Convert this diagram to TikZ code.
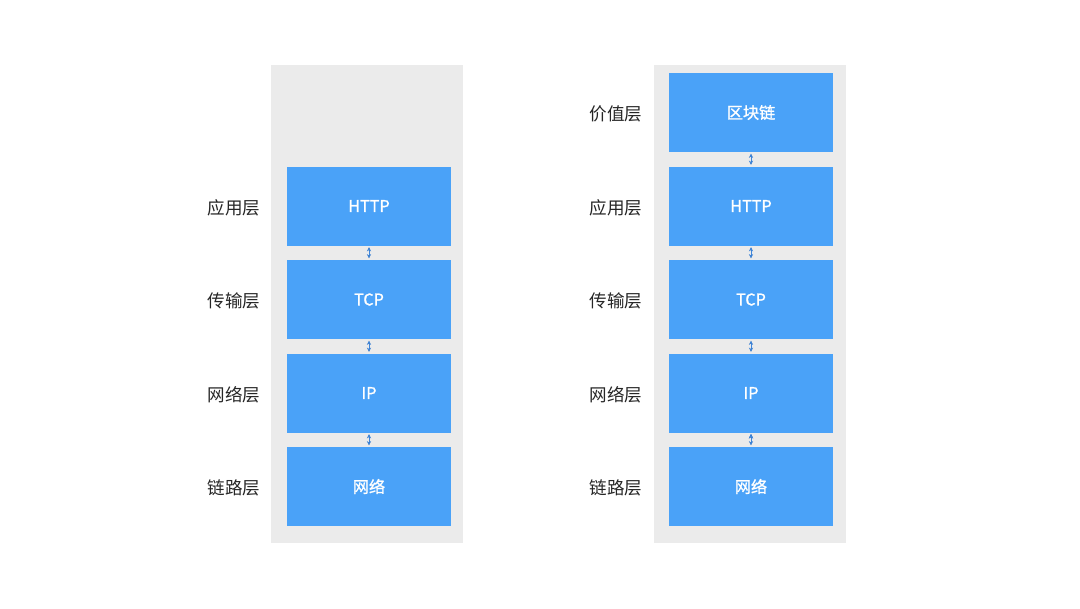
\documentclass[tikz,border=0pt]{standalone}
\usepackage{fontspec}
\setmainfont{Noto Sans CJK SC}
\newfontfamily\boxfont[FakeBold=1.2,AutoFakeBold=false]{Noto Sans CJK SC}
\usetikzlibrary{positioning,arrows.meta}
\definecolor{panelgray}{HTML}{EBEBEB}
\definecolor{boxblue}{HTML}{4AA2F8}
\definecolor{arrowblue}{HTML}{3F86DA}

\begin{document}
\begin{tikzpicture}[node distance=2.3375cm,on grid,
	layer/.style={fill=boxblue,minimum width=4.1cm,minimum height=1.975cm,inner sep=0pt,text=white,font=\boxfont\fontsize{11.5}{13}\selectfont},
	tag/.style={text=black!85,font=\fontsize{12.5}{14}\selectfont,yshift=-0.04cm},
	link/.style={{Stealth[length=3pt,width=3pt]}-{Stealth[length=3pt,width=3pt]},draw=arrowblue,line width=0.6pt,shorten <=1pt,shorten >=1pt}]
\useasboundingbox (0,0) rectangle (27,-15.2);
\fill[panelgray] (6.775,-1.625) rectangle (11.575,-13.575);
\fill[panelgray] (16.35,-1.625) rectangle (21.15,-13.575);
% left stack
\node[layer]							(http)		at (9.225,-5.15)				{HTTP};
\node[layer]							(tcp)		[below=of http]					{TCP};
\node[layer]							(ip)		[below=of tcp]					{IP};
\node[layer]							(net)		[below=of ip]					{网络};
\node[tag]								(lhttp)		[left=3.375cm of http]			{应用层};
\node[tag]								(ltcp)		[left=3.375cm of tcp]			{传输层};
\node[tag]								(lip)		[left=3.375cm of ip]			{网络层};
\node[tag]								(lnet)		[left=3.375cm of net]			{链路层};
% right stack
\node[layer]							(chain2)	at (18.775,-2.8125)				{区块链};
\node[layer]							(http2)		[below=of chain2]				{HTTP};
\node[layer]							(tcp2)		[below=of http2]				{TCP};
\node[layer]							(ip2)		[below=of tcp2]					{IP};
\node[layer]							(net2)		[below=of ip2]					{网络};
\node[tag]								(lchain2)	[left=3.375cm of chain2]		{价值层};
\node[tag]								(lhttp2)	[left=3.375cm of http2]			{应用层};
\node[tag]								(ltcp2)		[left=3.375cm of tcp2]			{传输层};
\node[tag]								(lip2)		[left=3.375cm of ip2]			{网络层};
\node[tag]								(lnet2)		[left=3.375cm of net2]			{链路层};
\path[link]
(http.south)	edge	(tcp.north)
(tcp.south)		edge	(ip.north)
(ip.south)		edge	(net.north)
(chain2.south)	edge	(http2.north)
(http2.south)	edge	(tcp2.north)
(tcp2.south)	edge	(ip2.north)
(ip2.south)		edge	(net2.north)
;
\end{tikzpicture}
\end{document}
